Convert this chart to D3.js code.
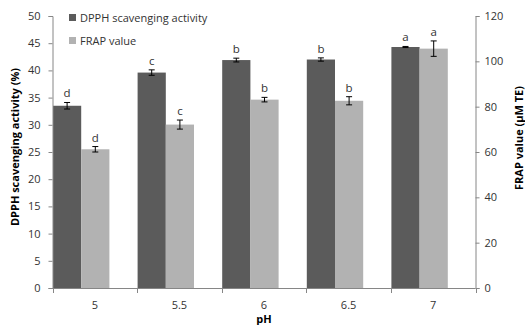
<!DOCTYPE html>
<html><head><meta charset="utf-8">
<script src="https://cdn.jsdelivr.net/npm/d3@7/dist/d3.min.js"></script>
<style>body{margin:0;background:#fff}svg{display:block}text{font-family:"Open Sans",sans-serif}</style>
</head><body><svg id="c" width="525" height="325"></svg>
<script>
const categories = ["5","5.5","6","6.5","7"];
const dpph = [33.5, 39.6, 41.9, 42.0, 44.3];
const dpphErr = [0.6, 0.5, 0.35, 0.3, 0.1];
const dpphLetters = ["d","c","b","b","a"];
const frap = [61.2, 72.1, 83.1, 82.6, 105.6];
const frapErr = [1.2, 2.0, 1.0, 1.8, 3.4];
const frapLetters = ["d","c","b","b","a"];
const leftTicks = [0,5,10,15,20,25,30,35,40,45,50];
const rightTicks = [0,20,40,60,80,100,120];

const svg = d3.select("#c");
const L = 52.5, R = 475.5, T = 16, B = 288;
const x = d3.scaleBand().domain(categories).range([L, R]).padding(0);
const yL = d3.scaleLinear().domain([0,50]).range([B,T]);
const yR = d3.scaleLinear().domain([0,120]).range([B,T]);
const bw = x.bandwidth() / 3;
const dark = "#5b5b5b", light = "#b2b2b2", axisC = "#868686", txt = "#333";

// bars
svg.selectAll(".bd").data(categories).enter().append("rect")
  .attr("x", d => x(d)+0.5).attr("width", bw)
  .attr("y", (d,i) => yL(dpph[i])).attr("height", (d,i) => B - yL(dpph[i]))
  .attr("fill", dark);
svg.selectAll(".bl").data(categories).enter().append("rect")
  .attr("x", d => x(d)+0.5+bw).attr("width", bw)
  .attr("y", (d,i) => yR(frap[i])).attr("height", (d,i) => B - yR(frap[i]))
  .attr("fill", light);

// error bars
function errBars(vals, errs, scale, off) {
  categories.forEach((c,i) => {
    const cx = x(c)+0.5+off+bw/2;
    const y1 = scale(vals[i]+errs[i]), y2 = scale(vals[i]-errs[i]);
    const g = svg.append("g").attr("stroke","#000").attr("stroke-width",1);
    g.append("line").attr("x1",cx).attr("x2",cx).attr("y1",y1).attr("y2",y2);
    g.append("line").attr("x1",cx-3).attr("x2",cx+3).attr("y1",y1).attr("y2",y1);
    g.append("line").attr("x1",cx-3).attr("x2",cx+3).attr("y1",y2).attr("y2",y2);
  });
}
errBars(dpph, dpphErr, yL, 0);
errBars(frap, frapErr, yR, bw);

// letters
categories.forEach((c,i) => {
  svg.append("text").attr("x", x(c)+0.5+bw/2).attr("y", yL(dpph[i]+dpphErr[i]) - 5)
    .attr("text-anchor","middle").attr("font-size",11.5).attr("fill",txt).text(dpphLetters[i]);
  svg.append("text").attr("x", x(c)+0.5+bw*1.5).attr("y", yR(frap[i]+frapErr[i]) - 5)
    .attr("text-anchor","middle").attr("font-size",11.5).attr("fill",txt).text(frapLetters[i]);
});

// axes
const ax = g => { g.select(".domain").attr("stroke",axisC); g.selectAll(".tick line").attr("stroke",axisC);
  g.selectAll(".tick text").attr("fill",txt).attr("font-size",11).attr("font-family","Open Sans"); };
svg.append("g").attr("transform",`translate(${L},0)`)
  .call(d3.axisLeft(yL).tickValues(leftTicks).tickSize(4).tickSizeOuter(4).tickPadding(8)).call(ax);
svg.append("g").attr("transform",`translate(${R},0)`)
  .call(d3.axisRight(yR).tickValues(rightTicks).tickSize(4).tickSizeOuter(4).tickPadding(5)).call(ax);
const xa = svg.append("g").attr("transform",`translate(0,${B})`)
  .call(d3.axisBottom(x).tickSize(0).tickSizeOuter(0).tickPadding(13)).call(ax);
xa.select(".domain").attr("d", `M${L},0.5H${R}`);
const bounds = categories.map(c => x(c)).concat([R]);
svg.selectAll(".xt").data(bounds).enter().append("line")
  .attr("x1", d => Math.round(d)+0.5).attr("x2", d => Math.round(d)+0.5)
  .attr("y1", B).attr("y2", B+5).attr("stroke", axisC);

// titles
svg.append("text").attr("x", (L+R)/2).attr("y", 323).attr("text-anchor","middle")
  .attr("font-size",11).attr("font-weight","bold").attr("fill","#000").text("pH");
svg.append("text").attr("transform","translate(19,147) rotate(-90)").attr("text-anchor","middle")
  .attr("font-size",11).attr("font-weight","bold").attr("fill","#000").text("DPPH scavenging activity (%)");
svg.append("text").attr("transform","translate(523,138) rotate(-90)").attr("text-anchor","middle")
  .attr("font-size",11).attr("font-weight","bold").attr("fill","#000").text("FRAP value (μM TE)");

// legend
const leg = [["DPPH scavenging activity", dark], ["FRAP value", light]];
leg.forEach((d,i) => {
  const ly = 18 + i*23;
  svg.append("rect").attr("x",69).attr("y",ly-4).attr("width",7).attr("height",7).attr("fill",d[1]);
  svg.append("text").attr("x",80).attr("y",ly+4).attr("font-size",11).attr("fill",txt).text(d[0]);
});
</script></body></html>
